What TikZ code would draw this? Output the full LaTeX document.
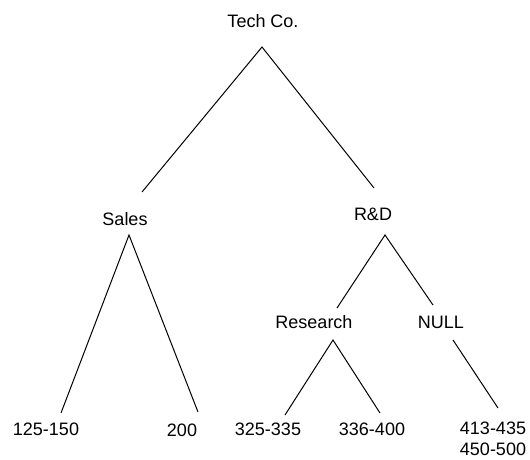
\documentclass[tikz,border=0pt]{standalone}
\usepackage{fontspec}
\setmainfont{Liberation Sans}
\begin{document}
\begin{tikzpicture}[
    x=1pt, y=-1pt,
    lbl/.style={font=\fontsize{18}{20}\selectfont, inner sep=0pt, anchor=base},
    edge/.style={line width=1pt},
]
\useasboundingbox (0,0) rectangle (530,459);

% labels
\node[lbl] (tech) at (263,27) {Tech Co.};
\node[lbl] (sales) at (125,225) {Sales};
\node[lbl] (rd) at (373,220) {R\&D};
\node[lbl] (research) at (314,328) {Research};
\node[lbl] (null) at (441,328) {NULL};
\node[lbl] (s1) at (46,435) {125-150};
\node[lbl] (s2) at (182,436) {200};
\node[lbl] (r1) at (268,435) {325-335};
\node[lbl] (r2) at (372,435) {336-400};
\node[lbl] (n1) at (493,434) {413-435};
\node[lbl] (n2) at (493,455) {450-500};

% line ends
\coordinate (tech-b) at (262,47);
\coordinate (sales-t) at (142,192);
\coordinate (sales-b) at (129,235);
\coordinate (rd-t) at (374,188);
\coordinate (rd-b) at (385,235);
\coordinate (research-t) at (337,308);
\coordinate (research-b) at (333,340);
\coordinate (null-t) at (433,305);
\coordinate (null-b) at (453,340);
\coordinate (s1-t) at (61,413);
\coordinate (s2-t) at (198,412);
\coordinate (r1-t) at (285,415);
\coordinate (r2-t) at (380,413);
\coordinate (n1-t) at (498,408);

\draw[edge] (sales-t) -- (tech-b) -- (rd-t);
\draw[edge] (s1-t) -- (sales-b) -- (s2-t);
\draw[edge] (research-t) -- (rd-b) -- (null-t);
\draw[edge] (r1-t) -- (research-b) -- (r2-t);
\draw[edge] (null-b) -- (n1-t);
\end{tikzpicture}
\end{document}
